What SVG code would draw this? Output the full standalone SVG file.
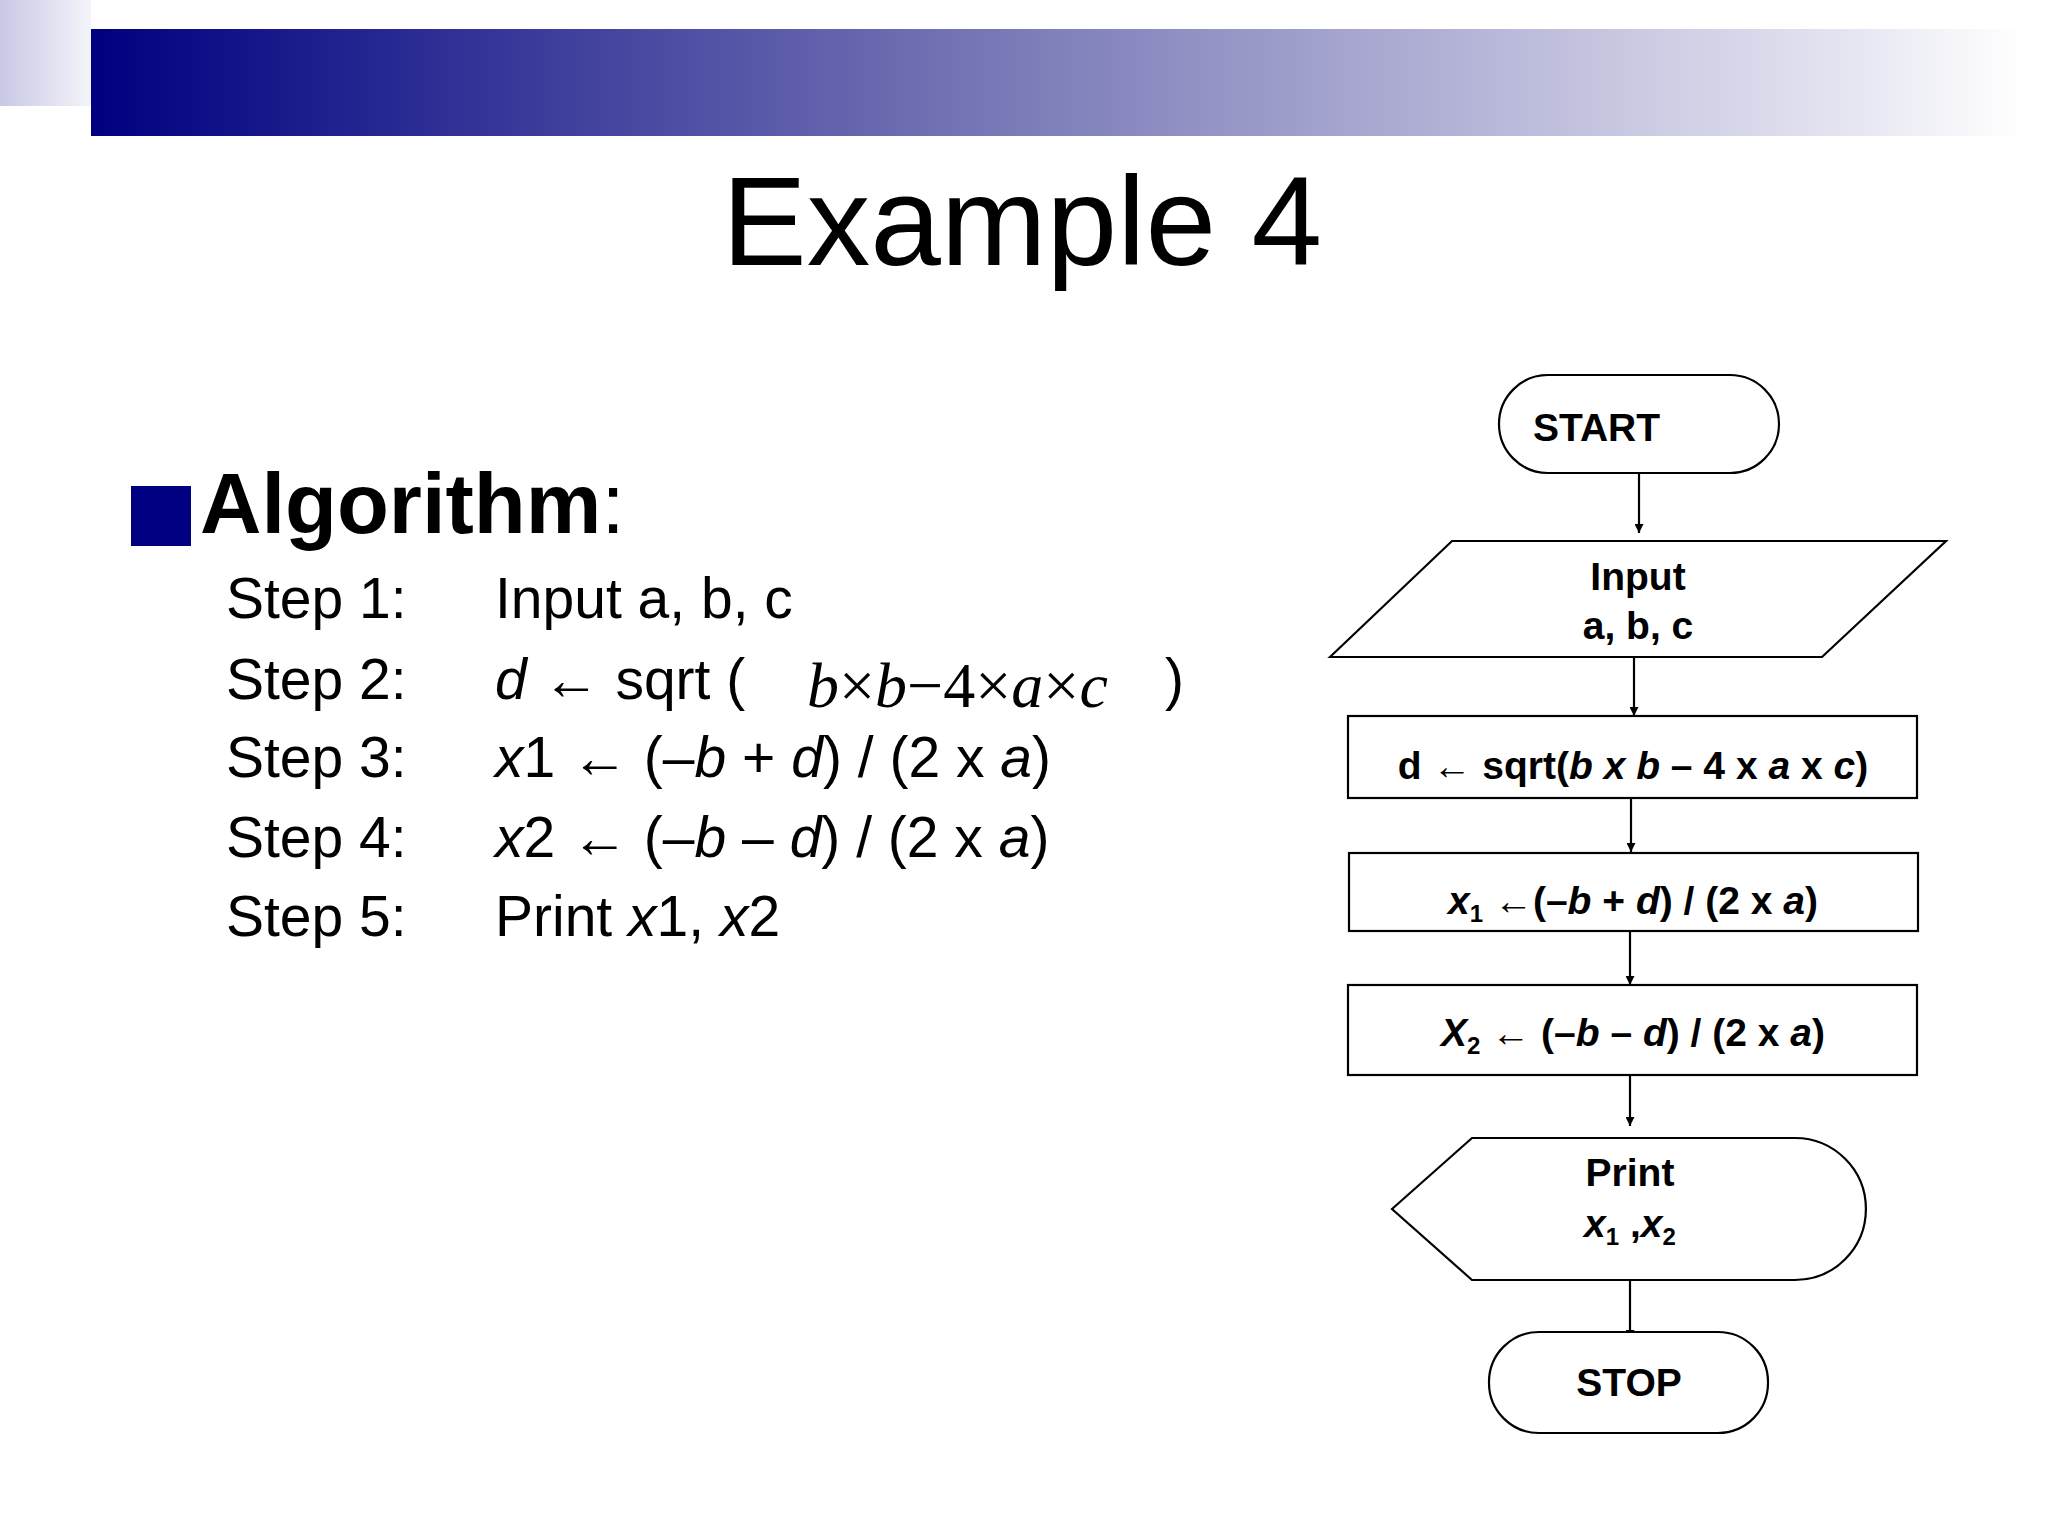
<svg xmlns="http://www.w3.org/2000/svg" width="2048" height="1536" viewBox="0 0 2048 1536">
<defs>
<linearGradient id="bar" x1="0" y1="0" x2="1" y2="0">
<stop offset="0" stop-color="#000080"/><stop offset="0.5" stop-color="#8080bb"/><stop offset="0.9" stop-color="#e2e2f0"/><stop offset="1" stop-color="#ffffff"/>
</linearGradient>
<linearGradient id="sq" x1="0" y1="0" x2="1" y2="0">
<stop offset="0" stop-color="#c8c8e6"/><stop offset="1" stop-color="#f4f4fa"/>
</linearGradient>
<marker id="ah" viewBox="0 0 10 10" refX="10" refY="5" markerWidth="9" markerHeight="9" markerUnits="userSpaceOnUse" orient="auto"><path d="M0,0L10,5L0,10Z" fill="#000"/></marker>
<style>
.sh{fill:#fff;stroke:#000;stroke-width:2.2}
.ft{font-family:"Liberation Sans",Arial,sans-serif;font-weight:bold;font-size:39px;text-anchor:middle}
.st{font-family:"Liberation Sans",Arial,sans-serif;font-size:57px}
.cn line{stroke:#000;stroke-width:2.2;marker-end:url(#ah)}
</style>
</defs>
<rect width="2048" height="1536" fill="#fff"/>
<rect x="0" y="0" width="91" height="106" fill="url(#sq)"/>
<rect x="91" y="29" width="1930" height="107" fill="url(#bar)"/>
<text x="1022" y="265" font-family="Liberation Sans,Arial,sans-serif" font-size="127" text-anchor="middle">Example 4</text>
<rect x="131" y="486" width="60" height="60" fill="#000080"/>
<text x="200" y="533" font-family="Liberation Sans,Arial,sans-serif" font-size="85"><tspan font-weight="bold">Algorithm</tspan>:</text>
<g class="st">
<text x="226" y="618">Step 1:</text><text x="495" y="618">Input a, b, c</text>
<text x="226" y="699">Step 2:</text><text x="495" y="699"><tspan font-style="italic">d</tspan> ← sqrt (</text>
<text x="807" y="707" font-family="Liberation Serif,'Times New Roman',serif" font-size="64" font-style="italic">b<tspan font-style="normal">×</tspan>b<tspan font-style="normal">−4×</tspan>a<tspan font-style="normal">×</tspan>c</text>
<text x="1165" y="699">)</text>
<text x="226" y="777">Step 3:</text><text x="495" y="777"><tspan font-style="italic">x</tspan>1 ← (–<tspan font-style="italic">b</tspan> + <tspan font-style="italic">d</tspan>) / (2 x <tspan font-style="italic">a</tspan>)</text>
<text x="226" y="857">Step 4:</text><text x="495" y="857"><tspan font-style="italic">x</tspan>2 ← (–<tspan font-style="italic">b</tspan> – <tspan font-style="italic">d</tspan>) / (2 x <tspan font-style="italic">a</tspan>)</text>
<text x="226" y="936">Step 5:</text><text x="495" y="936">Print <tspan font-style="italic">x</tspan>1, <tspan font-style="italic">x</tspan>2</text>
</g>
<g class="cn">
<line x1="1639" y1="473" x2="1639" y2="533"/>
<line x1="1634" y1="657" x2="1634" y2="716"/>
<line x1="1631" y1="781" x2="1631" y2="852"/>
<line x1="1630" y1="914" x2="1630" y2="985"/>
<line x1="1630" y1="1066" x2="1630" y2="1126"/>
<line x1="1630" y1="1280" x2="1630" y2="1339"/>
</g>
<g id="start"><rect class="sh" x="1499" y="375" width="280" height="98" rx="49"/><text class="ft" x="1533" y="441" text-anchor="start" style="text-anchor:start">START</text></g>
<g id="input"><polygon class="sh" points="1330,657 1452,541 1946,541 1822,657"/><text class="ft" x="1638" y="590">Input</text><text class="ft" x="1638" y="639">a, b, c</text></g>
<g id="calcd"><rect class="sh" x="1348" y="716" width="569" height="82"/><text class="ft" x="1633" y="779">d ←  sqrt(<tspan font-style="italic">b</tspan> <tspan font-style="italic">x</tspan> <tspan font-style="italic">b</tspan> – 4 x <tspan font-style="italic">a</tspan> x <tspan font-style="italic">c</tspan>)</text></g>
<g id="calcx1"><rect class="sh" x="1349" y="853" width="569" height="78"/><text class="ft" x="1633" y="914"><tspan font-style="italic">x</tspan><tspan font-size="24" dy="8">1</tspan><tspan dy="-8"> ←(–</tspan><tspan font-style="italic">b</tspan> + <tspan font-style="italic">d</tspan>) / (2 x <tspan font-style="italic">a</tspan>)</text></g>
<g id="calcx2"><rect class="sh" x="1348" y="985" width="569" height="90"/><text class="ft" x="1633" y="1046"><tspan font-style="italic">X</tspan><tspan font-size="24" dy="8">2</tspan><tspan dy="-8"> ← (–</tspan><tspan font-style="italic">b</tspan> – <tspan font-style="italic">d</tspan>) / (2 x <tspan font-style="italic">a</tspan>)</text></g>
<g id="print"><path class="sh" d="M1392,1209 L1472,1138 H1795 A71,71 0 0 1 1795,1280 H1472 Z"/><text class="ft" x="1630" y="1186">Print</text><text class="ft" x="1630" y="1237"><tspan font-style="italic">x</tspan><tspan font-size="24" dy="8">1</tspan><tspan dy="-8"> ,</tspan><tspan font-style="italic">x</tspan><tspan font-size="24" dy="8">2</tspan></text></g>
<g id="stop"><rect class="sh" x="1489" y="1332" width="279" height="101" rx="50"/><text class="ft" x="1629" y="1396">STOP</text></g>
</svg>
